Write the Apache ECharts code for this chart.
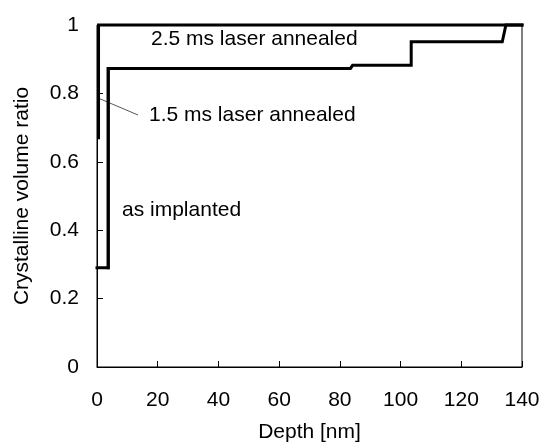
<!DOCTYPE html>
<html>
<head>
<meta charset="utf-8">
<script src="https://cdn.jsdelivr.net/npm/echarts@6/dist/echarts.min.js"></script>
<style>html,body{margin:0;padding:0;background:#fff;}#c{width:541px;height:442px;}</style>
</head>
<body>
<div id="c"></div>
<script>
// Depth [nm] / crystalline volume ratio step profiles
var asImplantedX = [0, 3.7, 3.7];
var asImplantedY = [0.29, 0.29, 0.873];
var ms15X = [3.7, 3.7, 83.5, 84.2, 103.5, 103.5, 133.5, 134.7, 140];
var ms15Y = [0.29, 0.873, 0.873, 0.882, 0.882, 0.951, 0.951, 1.0, 1.0];
var ms25X = [0.5, 0.5, 140];
var ms25Y = [0.67, 1.0, 1.0];
var xTicks = [0, 20, 40, 60, 80, 100, 120, 140];
var yTicks = [0, 0.2, 0.4, 0.6, 0.8, 1];
var labels = ['as implanted', '1.5 ms laser annealed', '2.5 ms laser annealed'];

function pairs(xs, ys) { return xs.map(function (x, i) { return [x, ys[i]]; }); }

var chart = echarts.init(document.getElementById('c'), null, {renderer: 'canvas'});
var font = 'Liberation Sans, Arial, sans-serif';
var fs = 21;
var lineStyle = {color: '#000', width: 3, join: 'miter', cap: 'square'};
chart.setOption({
  animation: false,
  backgroundColor: '#fff',
  grid: {left: 97, right: 19, top: 25, bottom: 75, containLabel: false, outerBoundsMode: 'none',
    show: true, borderColor: '#000', borderWidth: 1, backgroundColor: 'transparent'},
  xAxis: {
    type: 'value', min: 0, max: 140, interval: 20,
    name: 'Depth [nm]', nameLocation: 'middle', nameGap: 55,
    nameTextStyle: {fontFamily: font, fontSize: fs, color: '#000'},
    axisLine: {show: true, onZero: false, lineStyle: {color: '#000', width: 1}},
    axisTick: {show: true, inside: true, length: 6, lineStyle: {color: '#000'}},
    axisLabel: {fontFamily: font, fontSize: fs, color: '#000', margin: 23,
      formatter: function (v) { return xTicks.indexOf(v) >= 0 ? String(v) : ''; }},
    splitLine: {show: false}
  },
  yAxis: {
    type: 'value', min: 0, max: 1, interval: 0.2,
    name: 'Crystalline volume ratio', nameLocation: 'middle', nameGap: 64,
    nameTextStyle: {fontFamily: font, fontSize: fs, color: '#000'},
    axisLine: {show: true, onZero: false, lineStyle: {color: '#000', width: 1}},
    axisTick: {show: true, inside: true, length: 6, lineStyle: {color: '#000'}},
    axisLabel: {fontFamily: font, fontSize: fs, color: '#000', margin: 18,
      formatter: function (v) { var r = Math.round(v * 10) / 10; return yTicks.indexOf(r) >= 0 ? String(r) : ''; }},
    splitLine: {show: false}
  },
  series: [
    {name: labels[0], type: 'line', data: pairs(asImplantedX, asImplantedY), showSymbol: false, clip: false, lineStyle: lineStyle},
    {name: labels[1], type: 'line', data: pairs(ms15X, ms15Y), showSymbol: false, clip: false, lineStyle: lineStyle},
    {name: labels[2], type: 'line', data: pairs(ms25X, ms25Y), showSymbol: false, clip: false, lineStyle: lineStyle}
  ],
  graphic: [
    {type: 'text', left: 151, top: 28.5, style: {text: labels[2], font: fs + 'px ' + font, fill: '#000'}},
    {type: 'text', left: 149, top: 105, style: {text: labels[1], font: fs + 'px ' + font, fill: '#000'}},
    {type: 'text', left: 122, top: 199.5, style: {text: labels[0], font: fs + 'px ' + font, fill: '#000'}},
    {type: 'line', shape: {x1: 98, y1: 98, x2: 138, y2: 115}, style: {stroke: '#555', lineWidth: 1}}
  ]
});
</script>
</body>
</html>
